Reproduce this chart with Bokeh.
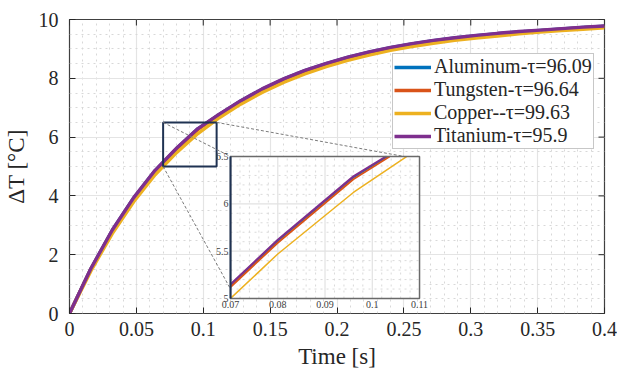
import numpy as np
from bokeh.plotting import figure
from bokeh.models import Range1d, FixedTicker
from bokeh.core.properties import value
from bokeh.embed import file_html
from bokeh.resources import INLINE

# ---------------- data ----------------
time_s = [0.000, 0.016, 0.032, 0.048, 0.064, 0.080, 0.096, 0.112, 0.128, 0.144,
          0.160, 0.176, 0.192, 0.208, 0.224, 0.240, 0.256, 0.272, 0.288, 0.304,
          0.320, 0.336, 0.352, 0.368, 0.384, 0.400]
aluminum = [0.00, 1.52, 2.83, 3.93, 4.86, 5.61, 6.28, 6.77, 7.23, 7.63, 7.97, 8.26, 8.50,
            8.71, 8.89, 9.04, 9.17, 9.28, 9.37, 9.45, 9.52, 9.58, 9.63, 9.68, 9.73, 9.77]
tungsten = [0.00, 1.51, 2.81, 3.91, 4.84, 5.59, 6.26, 6.76, 7.21, 7.61, 7.95, 8.24, 8.48,
            8.69, 8.87, 9.02, 9.15, 9.26, 9.35, 9.43, 9.50, 9.57, 9.62, 9.67, 9.72, 9.76]
copper = [0.00, 1.45, 2.72, 3.80, 4.72, 5.47, 6.12, 6.66, 7.12, 7.52, 7.86, 8.15, 8.40,
          8.61, 8.79, 8.95, 9.08, 9.19, 9.29, 9.37, 9.44, 9.51, 9.57, 9.62, 9.67, 9.72]
titanium = [0.00, 1.53, 2.84, 3.94, 4.87, 5.62, 6.29, 6.78, 7.24, 7.64, 7.98, 8.27, 8.51,
            8.72, 8.90, 9.05, 9.18, 9.29, 9.38, 9.46, 9.53, 9.59, 9.64, 9.69, 9.74, 9.78]

series_labels = ["Aluminum-τ=96.09", "Tungsten-τ=96.64", "Copper--τ=99.63", "Titanium-τ=95.9"]
series_colors = ["#0072BD", "#D95319", "#EDB120", "#7E2F8E"]

x_ticks = [0, 0.05, 0.1, 0.15, 0.2, 0.25, 0.3, 0.35, 0.4]
x_tick_labels = ["0", "0.05", "0.1", "0.15", "0.2", "0.25", "0.3", "0.35", "0.4"]
y_ticks = [0, 2, 4, 6, 8, 10]
y_tick_labels = ["0", "2", "4", "6", "8", "10"]

zoom_x = [0.07, 0.11]
zoom_y = [5.0, 6.5]
inset_x_ticks = [0.07, 0.08, 0.09, 0.1, 0.11]
inset_x_labels = ["0.07", "0.08", "0.09", "0.1", "0.11"]
inset_y_ticks = [5, 5.5, 6, 6.5]
inset_y_labels = ["5", "5.5", "6", "6.5"]

# ---------------- styling constants ----------------
FONT = "Liberation Serif"
DARK = "#262626"
RECT = "#1f3252"

x_minor = [round(v, 3) for v in np.arange(0, 0.4001, 0.01)]
y_minor = [round(v, 2) for v in np.arange(0, 10.001, 0.5)]

p = figure(width=617, height=376, x_range=Range1d(0, 0.4), y_range=Range1d(0, 10),
           output_backend="svg", toolbar_location=None,
           min_border_left=69, min_border_right=13, min_border_top=19, min_border_bottom=63)
p.background_fill_color = "white"
p.border_fill_color = "white"
p.outline_line_color = "#404040"
p.outline_line_width = 1.2

xt = FixedTicker(ticks=x_ticks, minor_ticks=x_minor)
yt = FixedTicker(ticks=y_ticks, minor_ticks=y_minor)
p.xaxis.ticker = xt
p.yaxis.ticker = yt
p.xgrid.ticker = xt
p.ygrid.ticker = yt
p.xaxis.major_label_overrides = dict(zip(x_ticks, x_tick_labels))
p.yaxis.major_label_overrides = dict(zip(y_ticks, y_tick_labels))

for g in (p.xgrid, p.ygrid):
    g.grid_line_color = "#e4e4e4"
    g.grid_line_width = 1.2
    g.minor_grid_line_color = "#d8d8d8"
    g.minor_grid_line_dash = "dotted"
    g.minor_grid_line_width = 1

for ax in (p.xaxis, p.yaxis):
    ax.axis_line_color = None
    ax.major_tick_in = 6
    ax.major_tick_out = 0
    ax.major_tick_line_color = DARK
    ax.minor_tick_line_color = None
    ax.major_label_text_font = FONT
    ax.major_label_text_font_size = "20px"
    ax.major_label_text_color = DARK
    ax.axis_label_text_font = FONT
    ax.axis_label_text_font_size = "23px"
    ax.axis_label_text_font_style = "normal"
    ax.axis_label_text_color = DARK

p.xaxis.axis_label = "Time [s]"
p.yaxis.axis_label = "ΔT [°C]"
p.xaxis.major_label_standoff = 4
p.xaxis.axis_label_standoff = 5
p.yaxis.major_label_standoff = 7
p.yaxis.axis_label_standoff = 7

# box ticks on top and right edges (inward), from the tick arrays
p.scatter(x=x_ticks, y=[p.y_range.end] * len(x_ticks), marker="dash", size=12,
          angle=np.pi / 2, line_color=DARK, line_width=1)
p.scatter(x=[p.x_range.end] * len(y_ticks), y=y_ticks, marker="dash", size=12,
          line_color=DARK, line_width=1)

# ---------------- main curves ----------------
all_series = [aluminum, tungsten, copper, titanium]
for ys, lab, col in zip(all_series, series_labels, series_colors):
    p.line(time_s, ys, line_color=col, line_width=3.4, legend_label=lab)

# zoom rectangle
p.quad(left=[zoom_x[0]], right=[zoom_x[1]], bottom=[zoom_y[0]], top=[zoom_y[1]],
       fill_color=None, line_color=RECT, line_width=2)

# ---------------- inset (sub-coordinates) ----------------
tx = [0.1204, 0.2617]   # inset placement, in main data units
ty = [0.51, 5.34]

def inset_to_main(xi, yi):
    mx = tx[0] + (xi - zoom_x[0]) / (zoom_x[1] - zoom_x[0]) * (tx[1] - tx[0])
    my = ty[0] + (yi - zoom_y[0]) / (zoom_y[1] - zoom_y[0]) * (ty[1] - ty[0])
    return mx, my

# dashed connectors
conn = [((zoom_x[0], zoom_y[1]), (0.07, 6.5)),
        ((zoom_x[1], zoom_y[1]), (0.1068, 6.5)),
        ((zoom_x[0], zoom_y[0]), (0.07, 5.1))]
cx0, cy0, cx1, cy1 = [], [], [], []
for (a, b), (ix, iy) in conn:
    mx, my = inset_to_main(ix, iy)
    cx0.append(a); cy0.append(b); cx1.append(mx); cy1.append(my)
p.segment(x0=cx0, y0=cy0, x1=cx1, y1=cy1, line_color="#7a7a7a", line_width=1,
          line_dash="3 2")

ins = p.subplot(x_source=Range1d(zoom_x[0], zoom_x[1]), y_source=Range1d(zoom_y[0], zoom_y[1]),
                x_target=Range1d(tx[0], tx[1]), y_target=Range1d(ty[0], ty[1]))

ins.quad(left=[zoom_x[0]], right=[zoom_x[1]], bottom=[zoom_y[0]], top=[zoom_y[1]],
         fill_color="white", line_color=None)

ix_minor = [round(v, 4) for v in np.arange(zoom_x[0], zoom_x[1] + 1e-9, 0.002)
            if min(abs(v - t) for t in inset_x_ticks) > 1e-6]
iy_minor = [round(v, 3) for v in np.arange(zoom_y[0], zoom_y[1] + 1e-9, 0.1)
            if min(abs(v - t) for t in inset_y_ticks) > 1e-6]
ins.segment(x0=ix_minor, y0=zoom_y[0], x1=ix_minor, y1=zoom_y[1],
            line_color="#dadada", line_dash="dotted", line_width=1)
ins.segment(x0=zoom_x[0], y0=iy_minor, x1=zoom_x[1], y1=iy_minor,
            line_color="#dadada", line_dash="dotted", line_width=1)
ins.segment(x0=inset_x_ticks[1:-1], y0=zoom_y[0], x1=inset_x_ticks[1:-1], y1=zoom_y[1],
            line_color="#e2e2e2", line_width=1.2)
ins.segment(x0=zoom_x[0], y0=inset_y_ticks[1:-1], x1=zoom_x[1], y1=inset_y_ticks[1:-1],
            line_color="#e2e2e2", line_width=1.2)

def clip_series(t, y):
    t = np.asarray(t, float); y = np.asarray(y, float)
    x_start = zoom_x[0]
    x_end = min(zoom_x[1], float(np.interp(zoom_y[1], y, t)))
    inner = [v for v in t if x_start < v < x_end]
    xs = [x_start] + inner + [x_end]
    return xs, list(np.interp(xs, t, y))

inset_widths = [2.0, 2.0, 1.5, 2.0]
for ys, col, lw in zip(all_series, series_colors, inset_widths):
    xs, yc = clip_series(time_s, ys)
    ins.line(xs, yc, line_color=col, line_width=lw)

ins.quad(left=[zoom_x[0]], right=[zoom_x[1]], bottom=[zoom_y[0]], top=[zoom_y[1]],
         fill_color=None, line_color="#6a6a6a", line_width=1.5)
ins.segment(x0=[zoom_x[0]], y0=[zoom_y[0]], x1=[zoom_x[0]], y1=[zoom_y[1]],
            line_color=RECT, line_width=2)

ins.text(x=[zoom_x[0]] * len(inset_y_ticks), y=inset_y_ticks, text=inset_y_labels,
         text_align="right", text_baseline="middle", x_offset=-2,
         text_font=value(FONT), text_font_size="10px", text_color="#404040")
ins.text(x=inset_x_ticks, y=[zoom_y[0]] * len(inset_x_ticks), text=inset_x_labels,
         text_align="center", text_baseline="top", y_offset=2,
         text_font=value(FONT), text_font_size="10px", text_color="#404040")

# ---------------- legend ----------------
lg = p.legend[0]
lg.location = (323, 164)
lg.margin = 0
lg.padding = 1
lg.spacing = 0
lg.glyph_width = 37
lg.glyph_height = 20
lg.label_height = 20
lg.label_standoff = 3
lg.label_text_font = FONT
lg.label_text_font_size = "20px"
lg.label_text_line_height = 1.0
lg.label_text_color = DARK
lg.border_line_color = "#8f8f8f"
lg.border_line_width = 1.2
lg.background_fill_color = "white"
lg.background_fill_alpha = 1.0

open("out.html", "w").write(file_html(p, INLINE))
